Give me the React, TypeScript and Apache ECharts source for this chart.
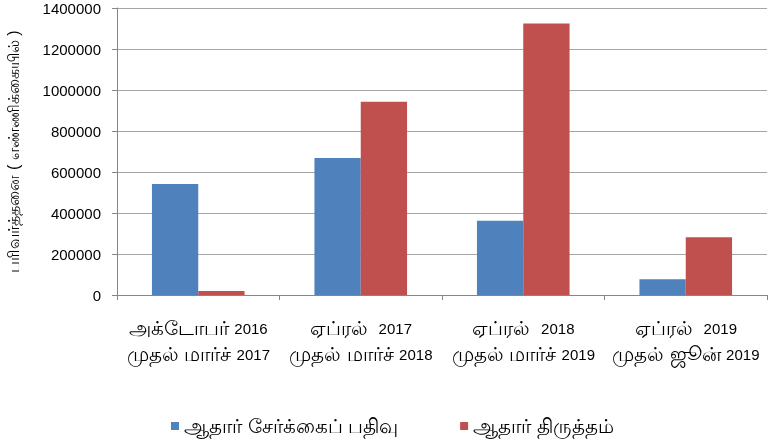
import React, { useEffect, useRef } from "react";
import * as echarts from "echarts";

const categories = [
  "அக்டோபர் 2016\nமுதல் மார்ச் 2017",
  "ஏப்ரல்  2017\nமுதல் மார்ச் 2018",
  "ஏப்ரல்  2018\nமுதல் மார்ச் 2019",
  "ஏப்ரல்  2019\nமுதல் ஜூன் 2019",
];
const enrolment = [541000, 668000, 362000, 76500];
const updates = [20000, 943000, 1325000, 281500];
const seriesNames = ["ஆதார் சேர்க்கைப் பதிவு", "ஆதார் திருத்தம்"];
const yTitle = "பரிவர்த்தனை ( எண்ணிக்கையில் )";

function richify(s: string): string {
  return s
    .split("\n")
    .map((line) =>
      line
        .split(/(\d+)/)
        .filter((p) => p.length > 0)
        .map((p) => (/^\d+$/.test(p) ? `{n|${p}}` : `{t|${p}}`))
        .join("")
    )
    .join("\n");
}

export default function App() {
  const ref = useRef<HTMLDivElement>(null);
  useEffect(() => {
    if (!ref.current) return;
    const chart = echarts.init(ref.current, undefined, { renderer: "svg" });
    const font = "Arial, 'Liberation Sans', 'Noto Sans', sans-serif";
    chart.setOption({
      animation: false,
      textStyle: { fontFamily: font },
      grid: { left: 117, right: 2, top: 8, bottom: 151, outerBoundsMode: "none", containLabel: false },
      legend: {
        bottom: 5,
        left: 166,
        itemWidth: 8,
        itemHeight: 8,
        itemGap: 62,
        icon: "rect",
        textStyle: { fontSize: 20, color: "#000", fontFamily: font, padding: [0, 0, 0, 0] },
        data: seriesNames,
      },
      xAxis: {
        type: "category",
        data: categories,
        axisLine: { lineStyle: { color: "#868686" } },
        axisTick: { show: true, length: 5, lineStyle: { color: "#868686" } },
        axisLabel: {
          color: "#000",
          margin: 20,
          interval: 0,
          formatter: (v: string) => richify(v),
          rich: {
            t: { fontSize: 20, lineHeight: 26, color: "#000", fontFamily: font },
            n: { fontSize: 15, lineHeight: 26, color: "#000", fontFamily: font },
          },
        },
      },
      yAxis: {
        type: "value",
        min: 0,
        max: 1400000,
        interval: 200000,
        name: yTitle,
        nameLocation: "middle",
        nameGap: 96,
        nameTextStyle: { fontSize: 16, color: "#000" },
        axisLine: { show: true, lineStyle: { color: "#868686" } },
        axisTick: { show: true, length: 5, lineStyle: { color: "#868686" } },
        axisLabel: { fontSize: 15, color: "#000", margin: 16, formatter: (v: number) => String(v) },
        splitLine: { lineStyle: { color: "#a6a6a6" } },
      },
      series: [
        {
          name: seriesNames[0],
          type: "bar",
          data: enrolment,
          barGap: "0%",
          barCategoryGap: "43%",
          itemStyle: { color: "#4F81BD" },
        },
        {
          name: seriesNames[1],
          type: "bar",
          data: updates,
          itemStyle: { color: "#C0504D" },
        },
      ],
    });
    return () => chart.dispose();
  }, []);
  return <div ref={ref} style={{ width: 769, height: 446, position: "fixed", left: 0, top: 0 }} />;
}
